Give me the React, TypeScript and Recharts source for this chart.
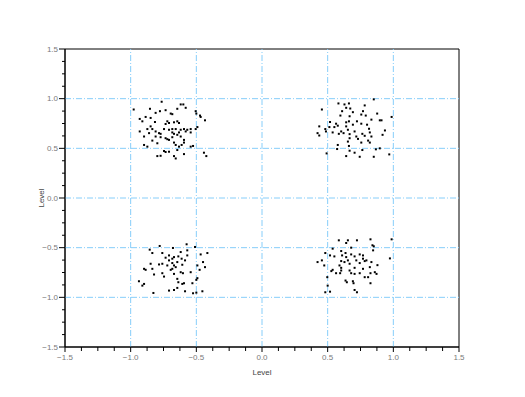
import React from 'react';
import { ScatterChart, Scatter, XAxis, YAxis, ReferenceLine, ReferenceArea } from 'recharts';

type Pt = [number, number];

const clusterUpperLeft: Pt[] = [
  [-0.764, 0.969], [-0.619, 0.942], [-0.599, 0.942], [-0.977, 0.891], [-0.853, 0.898], [-0.81, 0.857],
  [-0.777, 0.874], [-0.734, 0.884], [-0.695, 0.85], [-0.683, 0.844], [-0.645, 0.898], [-0.581, 0.908],
  [-0.505, 0.874], [-0.5, 0.85], [-0.472, 0.83], [-0.467, 0.816], [-0.434, 0.782], [-0.931, 0.796],
  [-0.911, 0.772], [-0.886, 0.816], [-0.848, 0.806], [-0.721, 0.772], [-0.708, 0.755], [-0.67, 0.762],
  [-0.645, 0.772], [-0.632, 0.755], [-0.734, 0.745], [-0.815, 0.765], [-0.848, 0.721], [-0.873, 0.694],
  [-0.835, 0.694], [-0.81, 0.67], [-0.784, 0.653], [-0.772, 0.646], [-0.746, 0.694], [-0.708, 0.687],
  [-0.683, 0.694], [-0.683, 0.66], [-0.67, 0.646], [-0.657, 0.694], [-0.632, 0.66], [-0.619, 0.687],
  [-0.594, 0.694], [-0.581, 0.67], [-0.569, 0.687], [-0.543, 0.694], [-0.543, 0.66], [-0.505, 0.694],
  [-0.492, 0.714], [-0.931, 0.67], [-0.898, 0.619], [-0.86, 0.653], [-0.81, 0.619], [-0.772, 0.612],
  [-0.734, 0.602], [-0.708, 0.585], [-0.683, 0.612], [-0.645, 0.636], [-0.619, 0.619], [-0.594, 0.585],
  [-0.594, 0.558], [-0.835, 0.578], [-0.797, 0.551], [-0.898, 0.534], [-0.873, 0.517], [-0.721, 0.592],
  [-0.67, 0.558], [-0.657, 0.534], [-0.612, 0.534], [-0.645, 0.483], [-0.746, 0.473], [-0.734, 0.463],
  [-0.708, 0.466], [-0.67, 0.422], [-0.657, 0.398], [-0.594, 0.442], [-0.797, 0.422], [-0.772, 0.425],
  [-0.442, 0.456], [-0.424, 0.422], [-0.525, 0.524], [-0.543, 0.517], [-0.632, 0.517],
];

const clusterUpperRight: Pt[] = [
  [0.851, 0.993], [0.582, 0.952], [0.628, 0.942], [0.662, 0.952], [0.641, 0.908], [0.672, 0.901],
  [0.782, 0.932], [0.456, 0.891], [0.61, 0.874], [0.692, 0.864], [0.769, 0.874], [0.756, 0.84],
  [0.597, 0.83], [0.667, 0.823], [0.79, 0.83], [0.877, 0.85], [0.897, 0.782], [0.91, 0.782],
  [0.833, 0.789], [0.987, 0.816], [0.641, 0.762], [0.692, 0.738], [0.723, 0.772], [0.518, 0.765],
  [0.564, 0.748], [0.577, 0.728], [0.551, 0.714], [0.756, 0.748], [0.8, 0.738], [0.436, 0.721],
  [0.482, 0.694], [0.513, 0.714], [0.641, 0.721], [0.662, 0.772], [0.654, 0.687], [0.815, 0.697],
  [0.936, 0.68], [0.918, 0.636], [0.603, 0.67], [0.585, 0.646], [0.621, 0.653], [0.667, 0.643],
  [0.705, 0.67], [0.718, 0.619], [0.764, 0.646], [0.821, 0.66], [0.423, 0.653], [0.436, 0.629],
  [0.487, 0.67], [0.538, 0.66], [0.667, 0.602], [0.731, 0.595], [0.782, 0.626], [0.833, 0.619],
  [0.654, 0.568], [0.756, 0.558], [0.808, 0.578], [0.821, 0.558], [0.577, 0.534], [0.572, 0.493],
  [0.662, 0.524], [0.667, 0.476], [0.705, 0.456], [0.764, 0.483], [0.867, 0.49], [0.897, 0.5],
  [0.969, 0.439], [0.492, 0.449], [0.641, 0.422], [0.744, 0.415], [0.851, 0.415],
];

const clusterLowerLeft: Pt[] = [
  [-0.779, -0.483], [-0.574, -0.466], [-0.51, -0.493], [-0.678, -0.503], [-0.569, -0.527], [-0.855, -0.52],
  [-0.835, -0.554], [-0.759, -0.554], [-0.708, -0.578], [-0.619, -0.544], [-0.637, -0.588], [-0.67, -0.595],
  [-0.612, -0.611], [-0.586, -0.628], [-0.569, -0.578], [-0.467, -0.568], [-0.416, -0.554], [-0.734, -0.601],
  [-0.708, -0.628], [-0.683, -0.655], [-0.645, -0.645], [-0.683, -0.611], [-0.759, -0.662], [-0.784, -0.669],
  [-0.848, -0.662], [-0.721, -0.679], [-0.67, -0.679], [-0.607, -0.672], [-0.492, -0.679], [-0.449, -0.645],
  [-0.898, -0.713], [-0.886, -0.723], [-0.835, -0.713], [-0.822, -0.77], [-0.759, -0.757], [-0.746, -0.791],
  [-0.695, -0.723], [-0.683, -0.713], [-0.657, -0.696], [-0.619, -0.747], [-0.602, -0.757], [-0.67, -0.764],
  [-0.645, -0.814], [-0.637, -0.848], [-0.607, -0.865], [-0.594, -0.858], [-0.53, -0.858], [-0.5, -0.824],
  [-0.475, -0.723], [-0.434, -0.696], [-0.543, -0.747], [-0.937, -0.838], [-0.898, -0.865], [-0.911, -0.882],
  [-0.827, -0.956], [-0.708, -0.932], [-0.67, -0.926], [-0.645, -0.905], [-0.586, -0.939], [-0.525, -0.959],
  [-0.5, -0.953], [-0.454, -0.939], [-0.492, -0.807],
];

const clusterLowerRight: Pt[] = [
  [0.826, -0.416], [0.987, -0.416], [0.585, -0.426], [0.654, -0.426], [0.723, -0.426], [0.641, -0.453],
  [0.841, -0.476], [0.851, -0.486], [0.538, -0.51], [0.679, -0.5], [0.846, -0.527], [0.603, -0.534],
  [0.636, -0.554], [0.482, -0.554], [0.518, -0.578], [0.551, -0.588], [0.61, -0.578], [0.679, -0.568],
  [0.705, -0.588], [0.744, -0.568], [0.769, -0.578], [0.974, -0.608], [0.641, -0.595], [0.654, -0.628],
  [0.769, -0.611], [0.795, -0.628], [0.833, -0.645], [0.423, -0.645], [0.456, -0.628], [0.474, -0.679],
  [0.603, -0.635], [0.628, -0.645], [0.667, -0.662], [0.718, -0.628], [0.744, -0.655], [0.782, -0.635],
  [0.59, -0.679], [0.705, -0.703], [0.879, -0.676], [0.538, -0.723], [0.603, -0.703], [0.603, -0.73],
  [0.667, -0.73], [0.769, -0.713], [0.821, -0.696], [0.859, -0.747], [0.528, -0.736], [0.564, -0.757],
  [0.595, -0.757], [0.679, -0.757], [0.705, -0.764], [0.744, -0.757], [0.826, -0.757], [0.872, -0.764],
  [0.636, -0.831], [0.646, -0.848], [0.692, -0.838], [0.697, -0.858], [0.782, -0.797], [0.808, -0.797],
  [0.826, -0.858], [0.497, -0.797], [0.5, -0.882], [0.518, -0.943], [0.482, -0.949], [0.705, -0.926],
  [0.723, -0.949],
];

const allTicks = [
  -1.5, -1.375, -1.25, -1.125, -1.0, -0.875, -0.75, -0.625, -0.5, -0.375, -0.25, -0.125, 0,
  0.125, 0.25, 0.375, 0.5, 0.625, 0.75, 0.875, 1.0, 1.125, 1.25, 1.375, 1.5,
];
const majorTicks = [-1.5, -1.0, -0.5, 0, 0.5, 1.0, 1.5];
const gridValues = [-1.0, -0.5, 0, 0.5, 1.0];

const points = [...clusterUpperLeft, ...clusterUpperRight, ...clusterLowerLeft, ...clusterLowerRight].map(
  ([x, y]) => ({ x, y })
);

const FONT = '"Liberation Sans", "DejaVu Sans", Arial, sans-serif';
const TICK_COLOR = '#7a7a7a';
const GRID_COLOR = '#87cefa';

const isMajor = (v: number) => majorTicks.some((m) => Math.abs(m - v) < 1e-9);
const fmt = (v: number) => {
  const s = Math.abs(v).toFixed(1);
  return v < -1e-9 ? '\u2212' + s : s;
};

const XTick = (props: any) => {
  const { x, y, payload } = props;
  const v = payload.value as number;
  const major = isMajor(v);
  return (
    <g>
      <line x1={x} x2={x} y1={y} y2={y + (major ? 5 : 4)} stroke="#000" strokeWidth={1} />
      {major && (
        <text x={x} y={y + 10} textAnchor="middle" dominantBaseline="central" fontSize={8} fill={TICK_COLOR} fontFamily={FONT}>
          {fmt(v)}
        </text>
      )}
    </g>
  );
};

const YTick = (props: any) => {
  const { x, y, payload } = props;
  const v = payload.value as number;
  const major = isMajor(v);
  return (
    <g>
      <line x1={x} x2={x - (major ? 6 : 3)} y1={y} y2={y} stroke="#000" strokeWidth={1} />
      {major && (
        <text x={x - 7} y={y} textAnchor="end" dominantBaseline="central" fontSize={8} fill={TICK_COLOR} fontFamily={FONT}>
          {fmt(v)}
        </text>
      )}
    </g>
  );
};

const Dot = (props: any) => {
  const { cx, cy } = props;
  return <rect x={cx - 1} y={cy - 1} width={2} height={2} fill="#000" />;
};

const YLabel = (props: any) => {
  const vb = props.viewBox || { x: 0, y: 49, width: 65, height: 298 };
  const cx = vb.x + 41;
  const cy = vb.y + vb.height / 2;
  return (
    <text
      x={cx}
      y={cy}
      transform={`rotate(-90 ${cx} ${cy})`}
      textAnchor="middle"
      dominantBaseline="central"
      fontSize={8}
      fill="#444"
      fontFamily={FONT}
    >
      Level
    </text>
  );
};

const XLabel = (props: any) => {
  const vb = props.viewBox || { x: 65, y: 347, width: 394, height: 50 };
  const cx = vb.x + vb.width / 2;
  const cy = vb.y + 25;
  return (
    <text x={cx} y={cy} textAnchor="middle" dominantBaseline="central" fontSize={8} fill="#444" fontFamily={FONT}>
      Level
    </text>
  );
};

export default function App() {
  return (
    <div style={{ position: 'absolute', left: 0, top: 0, width: 525, height: 397, background: '#fff' }}>
      <ScatterChart width={525} height={397} margin={{ top: 49, right: 66, bottom: 0, left: 0 }}>
        <XAxis
          type="number"
          dataKey="x"
          domain={[-1.5, 1.5]}
          ticks={allTicks}
          interval={0}
          allowDataOverflow
          height={50}
          tickSize={0}
          tickMargin={0}
          tickLine={false}
          axisLine={{ stroke: '#000', strokeWidth: 1 }}
          tick={<XTick />}
          label={<XLabel />}
        />
        <YAxis
          type="number"
          dataKey="y"
          domain={[-1.5, 1.5]}
          ticks={allTicks}
          interval={0}
          allowDataOverflow
          width={65}
          tickSize={0}
          tickMargin={0}
          tickLine={false}
          axisLine={{ stroke: '#000', strokeWidth: 1 }}
          tick={<YTick />}
          label={<YLabel />}
        />
        {gridValues.map((v) => (
          <ReferenceLine key={'gx' + v} x={v} stroke={GRID_COLOR} strokeDasharray="6 2 1 2" strokeWidth={1} />
        ))}
        {gridValues.map((v) => (
          <ReferenceLine key={'gy' + v} y={v} stroke={GRID_COLOR} strokeDasharray="6 2 1 2" strokeWidth={1} />
        ))}
        <ReferenceArea x1={-1.5} x2={1.5} y1={-1.5} y2={1.5} fill="none" fillOpacity={0} stroke="#000" strokeWidth={1} strokeOpacity={1} />
        <Scatter data={points} shape={<Dot />} isAnimationActive={false} />
      </ScatterChart>
    </div>
  );
}
